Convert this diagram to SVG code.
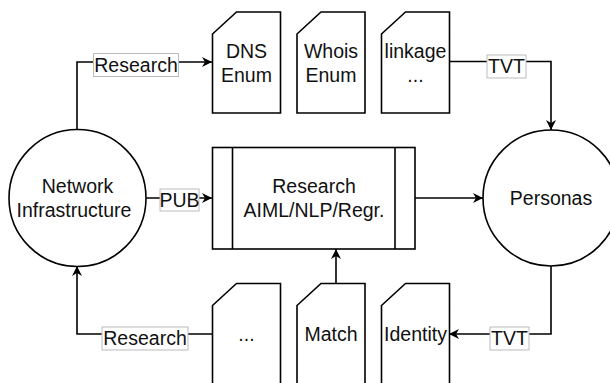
<svg xmlns="http://www.w3.org/2000/svg" width="610" height="383" viewBox="0 0 610 383">
  <defs>
    <marker id="arrow" viewBox="0 0 10 10" refX="10" refY="5" markerWidth="12" markerHeight="10" markerUnits="userSpaceOnUse" orient="auto">
      <path d="M0,0 L10,5 L0,10 L3,5 Z" fill="#000"/>
    </marker>
    <path id="card" d="M0,22 L24,0 L68,0 L68,101 L0,101 Z"/>
  </defs>
  <style>
    .shape { fill: #fff; stroke: #000; stroke-width: 1.6; }
    .edge { fill: none; stroke: #000; stroke-width: 1.6; }
    .arrow { marker-end: url(#arrow); }
    text { font-family: "Liberation Sans", Arial, Helvetica, sans-serif; font-size: 19.5px; fill: #111; text-anchor: middle; }
    .lbl { fill: #fff; stroke: #bbb; stroke-width: 1; }
  </style>

  <!-- connectors -->
  <g id="connectors">
    <path class="edge arrow" d="M77,130 L77,62 L212,62"/>
    <path class="edge arrow" d="M449,61.5 L551,61.5 L551,130"/>
    <path class="edge arrow" d="M146,198 L212,198"/>
    <path class="edge arrow" d="M415,198 L483,198"/>
    <path class="edge arrow" d="M336,283 L336,249"/>
    <path class="edge arrow" d="M212,334 L77,334 L77,266"/>
    <path class="edge arrow" d="M551,266 L551,334 L449,334"/>
    <!-- edge labels -->
    <rect class="lbl" x="93.5" y="53.5" width="85" height="23"/>
    <text x="136" y="72">Research</text>
    <rect class="lbl" x="487" y="55" width="39" height="23"/>
    <text x="506.5" y="73">TVT</text>
    <rect class="lbl" x="160" y="189" width="39" height="22"/>
    <text x="179.5" y="207">PUB</text>
    <rect class="lbl" x="102" y="327" width="86" height="23"/>
    <text x="145" y="345">Research</text>
    <rect class="lbl" x="490" y="327" width="39" height="23"/>
    <text x="509.5" y="345">TVT</text>
  </g>

  <!-- Network Infrastructure -->
  <g id="network">
    <circle class="shape" cx="77.5" cy="198" r="68.5"/>
    <text x="77.5" y="193">Network</text>
    <text x="74" y="216.5">Infrastructure</text>
  </g>

  <!-- Personas -->
  <g id="personas">
    <circle class="shape" cx="551" cy="198" r="68"/>
    <text x="551" y="205">Personas</text>
  </g>

  <!-- Research process -->
  <g id="research">
    <rect class="shape" x="212.5" y="147.5" width="202.5" height="101.5"/>
    <line class="edge" x1="232.5" y1="147.5" x2="232.5" y2="249"/>
    <line class="edge" x1="395" y1="147.5" x2="395" y2="249"/>
    <text x="314" y="193">Research</text>
    <text x="314" y="217">AIML/NLP/Regr.</text>
  </g>

  <!-- top cards -->
  <g id="dns-enum" transform="translate(212.5,12)">
    <use href="#card" class="shape"/>
    <text x="34" y="46">DNS</text>
    <text x="34" y="69.5">Enum</text>
  </g>
  <g id="whois-enum" transform="translate(297,12)">
    <use href="#card" class="shape"/>
    <text x="34" y="46">Whois</text>
    <text x="34" y="69.5">Enum</text>
  </g>
  <g id="linkage" transform="translate(381.5,12)">
    <use href="#card" class="shape"/>
    <text x="34" y="46">linkage</text>
    <text x="34" y="69.5">...</text>
  </g>

  <!-- bottom cards -->
  <g id="more" transform="translate(212.5,283.5)">
    <use href="#card" class="shape"/>
    <text x="34" y="57">...</text>
  </g>
  <g id="match" transform="translate(297,283.5)">
    <use href="#card" class="shape"/>
    <text x="34" y="57.5">Match</text>
  </g>
  <g id="identity" transform="translate(381.5,283.5)">
    <use href="#card" class="shape"/>
    <text x="34" y="57.5">Identity</text>
  </g>
</svg>
